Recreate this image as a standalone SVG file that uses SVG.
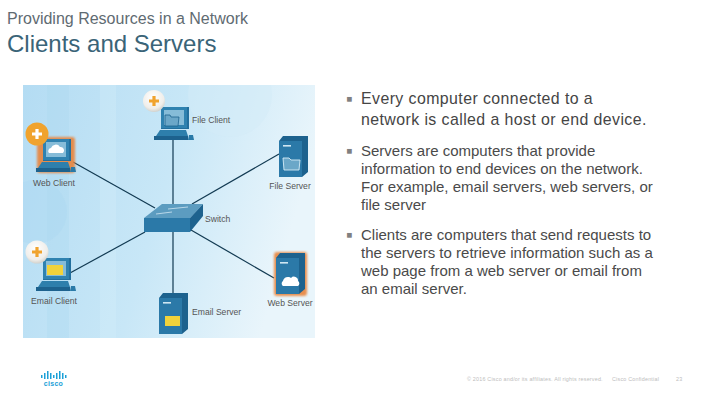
<svg xmlns="http://www.w3.org/2000/svg" width="720" height="405" viewBox="0 0 720 405">
<defs>
<linearGradient id="bg" x1="0" y1="0" x2="1" y2="0.25"><stop offset="0" stop-color="#b4dcf3"/><stop offset="0.55" stop-color="#c8e7f7"/><stop offset="1" stop-color="#e9f5fb"/></linearGradient>
<radialGradient id="wb" cx="0.45" cy="0.35" r="0.7"><stop offset="0" stop-color="#ffffff"/><stop offset="0.7" stop-color="#f0eeea"/><stop offset="1" stop-color="#c9c9c4"/></radialGradient>
<filter id="glow" x="-30%" y="-30%" width="160%" height="160%"><feGaussianBlur stdDeviation="1.2"/></filter>
<clipPath id="pc1"><rect x="23" y="85" width="292" height="253"/></clipPath>
<g id="plus"><path d="M-1.6-5H1.6V-1.6H5V1.6H1.6V5H-1.6V1.6H-5V-1.6H-1.6Z"/></g>
<g id="pc">
<path d="M-14-21H14V1H-14Z" fill="#236f9d"/>
<path d="M-14-21H12V0H-14Z" fill="#2f82b0"/>
<rect x="-11" y="-18" width="20" height="15" fill="#86bcd8"/>
<path d="M-15 2H11L13 8H-19Z" fill="#2e7fac"/>
<path d="M-21 8H13V12H-21Z" fill="#1d628e"/>
<path d="M14 7H18L19 12H13Z" fill="#2a7aa8"/>
</g>
<g id="srv">
<path d="M-14-16L-10-21H15V15L9 20V-16Z" fill="#1d628e"/>
<rect x="-14" y="-16" width="23" height="36" fill="#2b79a8"/>
<rect x="-10" y="-12" width="8" height="1.6" fill="#cfe6f2"/>
</g>
</defs>
<style>
text{font-family:"Liberation Sans",Arial,sans-serif}
.t{fill:#5f6b72}
.b{fill:#454545;font-size:15.9px;letter-spacing:.42px}
.s{fill:#4a4a4a;font-size:15px}
.l{fill:#555;font-size:8.6px}
.c{stroke:#123a52;stroke-width:1.2;fill:none}
.f{fill:#bdbdbd;font-size:5.4px;letter-spacing:.2px}
.q{fill:#808080;font-size:19px}
</style>
<rect width="720" height="405" fill="#fff"/>
<text class="t" x="7" y="24" font-size="16">Providing Resources in a Network</text>
<text x="7" y="52" font-size="24" fill="#3a6478">Clients and Servers</text>
<g id="panel" clip-path="url(#pc1)">
<rect x="23" y="85" width="292" height="253" fill="url(#bg)"/>
<rect x="47" y="85" width="22" height="253" fill="#a9d6f0" opacity=".3"/>
<rect x="100" y="85" width="16" height="253" fill="#d3edf9" opacity=".35"/>
<circle cx="230" cy="95" r="42" fill="#d3ecf8" opacity=".5"/>
<circle cx="35" cy="212" r="32" fill="#a9d6f0" opacity=".35"/>
</g>
<g id="connectors">
<path class="c" d="M73 162L155 208"/>
<path class="c" d="M173 139V204"/>
<path class="c" d="M279 154L192 204"/>
<path class="c" d="M70 273L145 232"/>
<path class="c" d="M173 232V293"/>
<path class="c" d="M191 230L274 278"/>
</g>
<g id="web-client">
<rect x="37" y="137" width="38" height="36" rx="3" fill="#e8853d" opacity=".9" filter="url(#glow)"/>
<use href="#pc" x="57" y="160"/>
<path d="M49 153a3 3 0 0 1 2-5a5 5 0 0 1 9-1a3.500 3.500 0 0 1 3 6Z" fill="#fff"/>
<circle cx="37" cy="134" r="11.5" fill="#f0a32e"/>
<use href="#plus" x="37" y="134" fill="#fff"/>
<text class="l" x="54" y="185.500" text-anchor="middle">Web Client</text>
</g>
<g id="file-client">
<use href="#pc" x="175" y="128"/>
<path d="M165 115h5l1 2h8l-1 9h-13Z" fill="#6ba7c8" stroke="#1d628e" stroke-width=".8"/>
<circle cx="154" cy="101" r="11" fill="url(#wb)"/>
<use href="#plus" x="154" y="101" fill="#f0a32e"/>
<text class="l" x="192" y="123">File Client</text>
</g>
<g id="file-server">
<use href="#srv" x="293" y="157"/>
<path d="M283 158h6l2 2h9l-1 10h-15Z" fill="#6ba7c8" stroke="#d6ecf6" stroke-width=".9"/>
<text class="l" x="290" y="189" text-anchor="middle">File Server</text>
</g>
<g id="switch">
<path d="M144 218H190V232H144Z" fill="#2b79a8"/>
<path d="M144 218L162 204H203L190 218Z" fill="#5c9cc0"/>
<path d="M190 218L203 204V216L190 232Z" fill="#1d628e"/>
<path d="M156 214L172 212M168 209L188 207" stroke="#cfe6f2" stroke-width=".8" fill="none"/>
<text class="l" x="205" y="222">Switch</text>
</g>
<g id="email-client">
<use href="#pc" x="57" y="279"/>
<rect x="47" y="265" width="16" height="10" fill="#f1d23b"/>
<circle cx="37" cy="252" r="11.5" fill="url(#wb)"/>
<use href="#plus" x="37" y="252" fill="#f0a32e"/>
<text class="l" x="54" y="304" text-anchor="middle">Email Client</text>
</g>
<g id="email-server">
<use href="#srv" x="173" y="314"/>
<rect x="165" y="316" width="15" height="10" fill="#f1d23b"/>
<text class="l" x="192" y="315">Email Server</text>
</g>
<g id="web-server">
<rect x="274" y="252" width="33" height="44" rx="3" fill="#e8853d" opacity=".9" filter="url(#glow)"/>
<use href="#srv" x="290" y="274"/>
<path d="M283 286a3 3 0 0 1 0-5a5 5 0 0 1 8-3a4 4 0 0 1 7 3a3 3 0 0 1 0 5Z" fill="#fff"/>
<text class="l" x="290" y="306" text-anchor="middle">Web Server</text>
</g>
<g id="bullets">
<text class="q" x="346" y="105">▪</text>
<text class="b" x="361" y="104">Every computer connected to a</text>
<text class="b" x="361" y="125">network is called a host or end device.</text>
<text class="q" x="346" y="157">▪</text>
<text class="s" x="361" y="156">Servers are computers that provide</text>
<text class="s" x="361" y="174">information to end devices on the network.</text>
<text class="s" x="361" y="192">For example, email servers, web servers, or</text>
<text class="s" x="361" y="210">file server</text>
<text class="q" x="346" y="241">▪</text>
<text class="s" x="361" y="240">Clients are computers that send requests to</text>
<text class="s" x="361" y="258">the servers to retrieve information such as a</text>
<text class="s" x="361" y="276">web page from a web server or email from</text>
<text class="s" x="361" y="294">an email server.</text>
</g>
<g id="logo" fill="#1ba0d7">
<rect x="41" y="375" width="1.5" height="3"/><rect x="44" y="373" width="1.5" height="6"/><rect x="47" y="371" width="1.5" height="8"/><rect x="50" y="373" width="1.5" height="6"/><rect x="53" y="375" width="1.5" height="3"/><rect x="56" y="373" width="1.5" height="6"/><rect x="59" y="371" width="1.5" height="8"/><rect x="62" y="373" width="1.5" height="6"/><rect x="65" y="375" width="1.5" height="3"/>
<text x="53.500" y="386" font-size="7" font-weight="700" text-anchor="middle" letter-spacing=".3">cisco</text>
</g>
<text class="f" x="467" y="381">© 2016 Cisco and/or its affiliates. All rights reserved.</text>
<text class="f" x="612" y="381">Cisco Confidential</text>
<text class="f" x="676" y="381">23</text>
</svg>
